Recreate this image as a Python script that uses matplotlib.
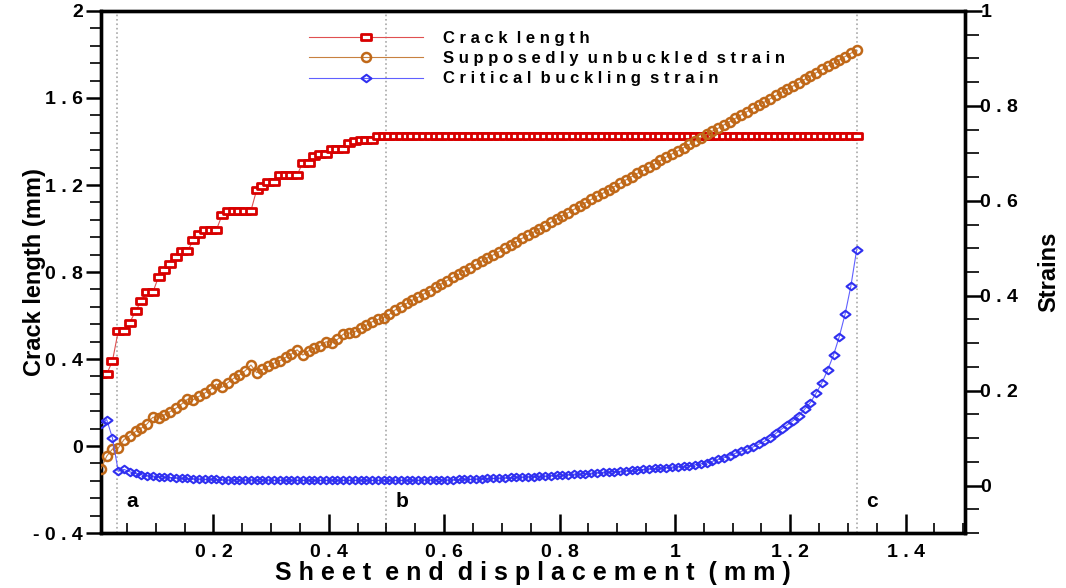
import matplotlib
matplotlib.use("Agg")
import matplotlib.pyplot as plt
from matplotlib.path import Path
from matplotlib.ticker import FixedLocator, FixedFormatter, MultipleLocator
from matplotlib.lines import Line2D

plt.rcParams['font.family'] = ['Liberation Sans', 'DejaVu Sans']
plt.rcParams['font.weight'] = 'bold'

# sheet end displacement (mm)
displacement = [
    0.005, 0.015, 0.025, 0.035, 0.045, 0.055, 0.065, 0.075, 0.085, 0.095,
    0.105, 0.115, 0.125, 0.135, 0.145, 0.155, 0.165, 0.175, 0.185, 0.195,
    0.205, 0.215, 0.225, 0.235, 0.245, 0.255, 0.265, 0.275, 0.285, 0.295,
    0.305, 0.315, 0.325, 0.335, 0.345, 0.355, 0.365, 0.375, 0.385, 0.395,
    0.405, 0.415, 0.425, 0.435, 0.445, 0.455, 0.465, 0.475, 0.485, 0.495,
    0.505, 0.515, 0.525, 0.535, 0.545, 0.555, 0.565, 0.575, 0.585, 0.595,
    0.605, 0.615, 0.625, 0.635, 0.645, 0.655, 0.665, 0.675, 0.685, 0.695,
    0.705, 0.715, 0.725, 0.735, 0.745, 0.755, 0.765, 0.775, 0.785, 0.795,
    0.805, 0.815, 0.825, 0.835, 0.845, 0.855, 0.865, 0.875, 0.885, 0.895,
    0.905, 0.915, 0.925, 0.935, 0.945, 0.955, 0.965, 0.975, 0.985, 0.995,
    1.005, 1.015, 1.025, 1.035, 1.045, 1.055, 1.065, 1.075, 1.085, 1.095,
    1.105, 1.115, 1.125, 1.135, 1.145, 1.155, 1.165, 1.175, 1.185, 1.195,
    1.205, 1.215, 1.225, 1.235, 1.245, 1.255, 1.265, 1.275, 1.285, 1.295,
    1.305, 1.315,
]

# crack length (mm), left axis
crack_length = [
    0.330, 0.330, 0.392, 0.529, 0.529, 0.567, 0.621, 0.667, 0.707, 0.707,
    0.779, 0.809, 0.838, 0.868, 0.897, 0.897, 0.945, 0.973, 0.993, 0.993,
    0.993, 1.062, 1.082, 1.082, 1.082, 1.082, 1.082, 1.178, 1.197, 1.215,
    1.215, 1.246, 1.246, 1.246, 1.246, 1.303, 1.303, 1.333, 1.343, 1.343,
    1.364, 1.364, 1.364, 1.392, 1.402, 1.408, 1.408, 1.408, 1.425, 1.425,
    1.425, 1.425, 1.425, 1.425, 1.425, 1.425, 1.425, 1.425, 1.425, 1.425,
    1.425, 1.425, 1.425, 1.425, 1.425, 1.425, 1.425, 1.425, 1.425, 1.425,
    1.425, 1.425, 1.425, 1.425, 1.425, 1.425, 1.425, 1.425, 1.425, 1.425,
    1.425, 1.425, 1.425, 1.425, 1.425, 1.425, 1.425, 1.425, 1.425, 1.425,
    1.425, 1.425, 1.425, 1.425, 1.425, 1.425, 1.425, 1.425, 1.425, 1.425,
    1.425, 1.425, 1.425, 1.425, 1.425, 1.425, 1.425, 1.425, 1.425, 1.425,
    1.425, 1.425, 1.425, 1.425, 1.425, 1.425, 1.425, 1.425, 1.425, 1.425,
    1.425, 1.425, 1.425, 1.425, 1.425, 1.425, 1.425, 1.425, 1.425, 1.425,
    1.425, 1.425,
]

# supposedly unbuckled strain, right axis
unbuckled_strain = [
    0.035, 0.062, 0.077, 0.079, 0.097, 0.105, 0.114, 0.121, 0.130, 0.144,
    0.142, 0.149, 0.156, 0.163, 0.172, 0.182, 0.181, 0.188, 0.195, 0.203,
    0.214, 0.207, 0.217, 0.226, 0.233, 0.242, 0.254, 0.238, 0.245, 0.251,
    0.258, 0.263, 0.270, 0.277, 0.286, 0.275, 0.284, 0.289, 0.294, 0.303,
    0.301, 0.308, 0.319, 0.321, 0.324, 0.331, 0.338, 0.345, 0.350, 0.354,
    0.361, 0.370, 0.377, 0.384, 0.391, 0.397, 0.404, 0.411, 0.418, 0.425,
    0.432, 0.439, 0.445, 0.452, 0.459, 0.466, 0.473, 0.480, 0.486, 0.493,
    0.500, 0.507, 0.514, 0.521, 0.527, 0.534, 0.541, 0.548, 0.555, 0.562,
    0.569, 0.575, 0.582, 0.589, 0.596, 0.603, 0.610, 0.616, 0.623, 0.630,
    0.637, 0.644, 0.651, 0.658, 0.664, 0.671, 0.678, 0.685, 0.692, 0.699,
    0.705, 0.712, 0.719, 0.726, 0.733, 0.740, 0.747, 0.753, 0.760, 0.767,
    0.774, 0.781, 0.788, 0.795, 0.801, 0.808, 0.815, 0.822, 0.829, 0.836,
    0.842, 0.849, 0.856, 0.863, 0.870, 0.877, 0.884, 0.890, 0.897, 0.904,
    0.911, 0.918,
]

# critical buckling strain, right axis
critical_strain = [
    0.130, 0.139, 0.100, 0.030, 0.034, 0.029, 0.026, 0.023, 0.021, 0.020,
    0.019, 0.018, 0.017, 0.016, 0.015, 0.015, 0.014, 0.014, 0.013, 0.013,
    0.013, 0.012, 0.012, 0.012, 0.012, 0.012, 0.012, 0.012, 0.012, 0.012,
    0.011, 0.011, 0.011, 0.011, 0.011, 0.011, 0.011, 0.011, 0.011, 0.011,
    0.011, 0.011, 0.011, 0.011, 0.011, 0.011, 0.011, 0.011, 0.011, 0.011,
    0.011, 0.011, 0.011, 0.011, 0.011, 0.011, 0.012, 0.012, 0.012, 0.012,
    0.012, 0.012, 0.013, 0.013, 0.013, 0.014, 0.014, 0.015, 0.015, 0.016,
    0.016, 0.017, 0.018, 0.018, 0.019, 0.019, 0.020, 0.020, 0.021, 0.022,
    0.022, 0.023, 0.024, 0.024, 0.025, 0.026, 0.027, 0.028, 0.029, 0.029,
    0.030, 0.031, 0.032, 0.033, 0.034, 0.035, 0.036, 0.037, 0.038, 0.039,
    0.040, 0.041, 0.042, 0.044, 0.046, 0.048, 0.051, 0.055, 0.059, 0.063,
    0.068, 0.072, 0.076, 0.081, 0.087, 0.093, 0.100, 0.110, 0.119, 0.128,
    0.137, 0.147, 0.161, 0.175, 0.195, 0.217, 0.244, 0.275, 0.314, 0.361,
    0.420, 0.496,
]

stage_positions = [0.033, 0.5, 1.315]
stage_labels = ['a', 'b', 'c']

x_ticks = [0.2, 0.4, 0.6, 0.8, 1.0, 1.2, 1.4]
x_ticklabels = ['0 . 2', '0 . 4', '0 . 6', '0 . 8', '1', '1 . 2', '1 . 4']
left_ticks = [-0.4, 0.0, 0.4, 0.8, 1.2, 1.6, 2.0]
left_ticklabels = ['- 0 . 4', '0', '0 . 4', '0 . 8', '1 . 2', '1 . 6', '2']
right_ticks = [0.0, 0.2, 0.4, 0.6, 0.8, 1.0]
right_ticklabels = ['0', '0 . 2', '0 . 4', '0 . 6', '0 . 8', '1']

RED = '#d80000'
ORANGE = '#c06818'
BLUE = '#3030f0'

rect_marker = Path([(-1, -0.62), (1, -0.62), (1, 0.62), (-1, 0.62), (-1, -0.62)],
                   closed=True)
diamond_marker = Path([(-1, 0), (0, 0.75), (1, 0), (0, -0.75), (-1, 0)],
                      closed=True)

red_style = dict(color='#e05050', linewidth=0.8, marker=rect_marker,
                 markersize=6.6, markeredgewidth=2.0, markeredgecolor=RED,
                 markerfacecolor='white')
orange_style = dict(color='#c88040', linewidth=0.8, marker='o',
                    markersize=6.5, markeredgewidth=1.8,
                    markeredgecolor=ORANGE, markerfacecolor='none')
blue_style = dict(color='#6060ff', linewidth=0.8, marker=diamond_marker,
                  markersize=7.2, markeredgewidth=1.5, markeredgecolor=BLUE,
                  markerfacecolor='none')

fig = plt.figure(figsize=(10.66, 5.88), dpi=100)
ax = fig.add_axes([0.0947, 0.0935, 0.8106, 0.8878])
ax2 = ax.twinx()

for xv in stage_positions:
    ax.axvline(xv, color='#a8a8a8', linestyle=':', linewidth=1.2, zorder=1)

ax.plot(displacement, crack_length, zorder=5, **red_style)
ax2.plot(displacement, unbuckled_strain, zorder=5, **orange_style)
ax2.plot(displacement, critical_strain, zorder=6, **blue_style)

ax.set_xlim(0.005, 1.503)
ax.set_ylim(-0.4, 2.0)
ax2.set_ylim(-0.1, 1.0)

ax.xaxis.set_major_locator(FixedLocator(x_ticks))
ax.xaxis.set_major_formatter(FixedFormatter(x_ticklabels))
ax.xaxis.set_minor_locator(MultipleLocator(0.05))
ax.yaxis.set_major_locator(FixedLocator(left_ticks))
ax.yaxis.set_major_formatter(FixedFormatter(left_ticklabels))
ax.yaxis.set_minor_locator(MultipleLocator(0.08))
ax2.yaxis.set_major_locator(FixedLocator(right_ticks))
ax2.yaxis.set_major_formatter(FixedFormatter(right_ticklabels))
ax2.yaxis.set_minor_locator(MultipleLocator(0.05))

ax.tick_params(axis='x', which='major', direction='in', length=14, width=1.8,
               pad=8, labelsize=14)
ax.tick_params(axis='x', which='minor', direction='in', length=7, width=1.2)
ax.tick_params(axis='y', which='major', direction='out', length=11, width=1.8,
               pad=2, labelsize=14)
ax.tick_params(axis='y', which='minor', direction='out', length=8, width=1.2)
ax2.tick_params(axis='y', which='major', direction='out', length=12, width=1.8,
                pad=-1, labelsize=14)
ax2.tick_params(axis='y', which='minor', direction='out', length=10, width=1.2)
for lab in ax.get_xticklabels() + ax.get_yticklabels() + ax2.get_yticklabels():
    lab.set_fontweight('bold')

for a in (ax, ax2):
    for s in a.spines.values():
        s.set_linewidth(2.4)

ax.set_xlabel('S h e e t  e n d  d i s p l a c e m e n t  ( m m )',
              fontsize=18, fontweight='bold', labelpad=0)
ax.set_ylabel('Crack length (mm)', fontsize=17, fontweight='bold')
ax.yaxis.set_label_coords(-0.064, 0.5)
ax2.set_ylabel('Strains', fontsize=17, fontweight='bold')
ax2.yaxis.set_label_coords(1.083, 0.5)

for xv, lab in zip(stage_positions, stage_labels):
    ax.text(xv + 0.016, -0.255, lab, fontsize=15, fontweight='bold',
            ha='left', va='center')

handles = [Line2D([], [], **red_style),
           Line2D([], [], **orange_style),
           Line2D([], [], **blue_style)]
labels = ['C r a c k  l e n g t h',
          'S u p p o s e d l y  u n b u c k l e d  s t r a i n',
          'C r i t i c a l  b u c k l i n g  s t r a i n']
leg = ax2.legend(handles, labels, loc='upper left', bbox_to_anchor=(0.2407, 0.962),
                 frameon=False, fontsize=12, handlelength=6.85, handletextpad=1.2,
                 labelspacing=0.32, borderpad=0, borderaxespad=0, numpoints=1)
for t in leg.get_texts():
    t.set_fontweight('bold')

fig.savefig('out.png', dpi=100)
